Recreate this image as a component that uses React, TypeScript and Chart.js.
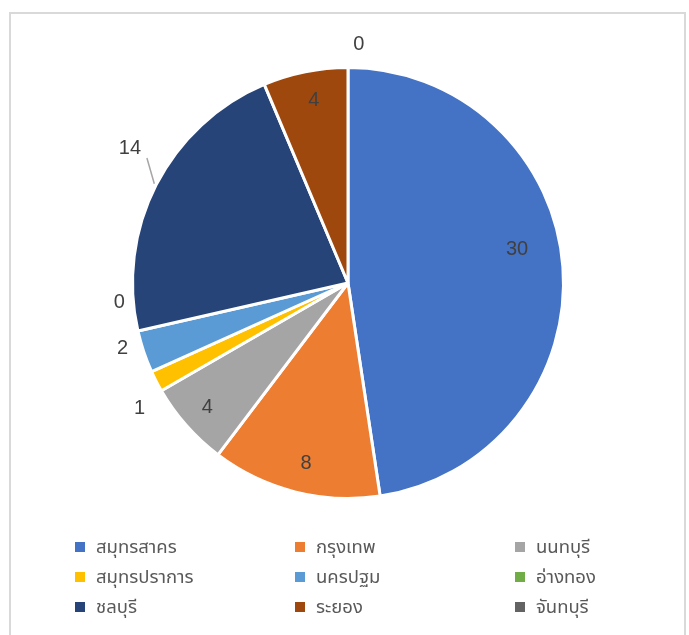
import React, { useEffect, useRef } from "react";
import { Chart, registerables } from "chart.js";

Chart.register(...registerables);

const provinces = [
  "สมุทรสาคร",
  "กรุงเทพ",
  "นนทบุรี",
  "สมุทรปราการ",
  "นครปฐม",
  "อ่างทอง",
  "ชลบุรี",
  "ระยอง",
  "จันทบุรี",
];
const cases = [30, 8, 4, 1, 2, 0, 14, 4, 0];
const colors = [
  "#4472C4",
  "#ED7D31",
  "#A5A5A5",
  "#FFC000",
  "#5B9BD5",
  "#70AD47",
  "#264478",
  "#9E480E",
  "#636363",
];
// label placement style: radial factor and angle nudge (degrees)
const labelRadius = [0.8, 0.86, 0.87, 1.13, 1.09, 1.065, 1.19, 0.86, 1.11];
const labelNudge = [-7, -1.2, 0, -4, 2.3, 8, 4.6, 0.8, 2.6];
const leader = [false, false, false, false, false, false, true, false, false];

const FONT = "Tahoma, 'Leelawadee UI', 'Noto Sans Thai', 'Noto Sans', 'DejaVu Sans', sans-serif";

const labelPlugin = {
  id: "pieLabels",
  afterDatasetsDraw(chart: any) {
    const ctx = chart.ctx;
    const meta = chart.getDatasetMeta(0);
    ctx.save();
    ctx.font = "20px 'Liberation Sans', Arial, sans-serif";
    ctx.fillStyle = "#404040";
    ctx.textAlign = "center";
    ctx.textBaseline = "middle";
    meta.data.forEach((arc: any, i: number) => {
      const { x, y, startAngle, endAngle, outerRadius } = arc.getProps(
        ["x", "y", "startAngle", "endAngle", "outerRadius"],
        true
      );
      const mid = (startAngle + endAngle) / 2;
      const a = mid + (labelNudge[i] * Math.PI) / 180;
      const r = outerRadius * labelRadius[i];
      const lx = x + Math.cos(a) * r;
      const ly = y + Math.sin(a) * r;
      ctx.fillText(String(cases[i]), lx, ly);
      if (leader[i]) {
        ctx.strokeStyle = "#A6A6A6";
        ctx.lineWidth = 1.5;
        ctx.beginPath();
        ctx.moveTo(lx + 17, ly + 10);
        ctx.lineTo(x + Math.cos(mid) * outerRadius * 1.01, y + Math.sin(mid) * outerRadius * 1.01);
        ctx.stroke();
      }
    });
    ctx.restore();
  },
};

export default function App() {
  const ref = useRef<HTMLCanvasElement | null>(null);
  useEffect(() => {
    if (!ref.current) return;
    const chart = new Chart(ref.current, {
      type: "pie",
      data: {
        labels: provinces,
        datasets: [
          {
            data: cases,
            backgroundColor: colors,
            borderColor: "#ffffff",
            borderWidth: 3,
          },
        ],
      },
      options: {
        responsive: false,
        animation: false,
        devicePixelRatio: 1,
        layout: { padding: { left: 131, right: 124, top: 66, bottom: 135 } },
        plugins: {
          legend: { display: false },
          tooltip: { enabled: false },
          title: { display: false },
        },
      },
      plugins: [labelPlugin],
    });
    return () => chart.destroy();
  }, []);

  return (
    <div
      style={{
        position: "fixed",
        left: 0,
        top: 0,
        width: 689,
        height: 635,
        background: "#ffffff",
        overflow: "hidden",
      }}
    >
      <div
        style={{
          position: "absolute",
          left: 9,
          top: 12,
          width: 673,
          height: 700,
          border: "2px solid #d9d9d9",
        }}
      />
      <canvas
        ref={ref}
        width={689}
        height={635}
        style={{ position: "absolute", left: 0, top: 0, width: 689, height: 635 }}
      />
      <div
        style={{
          position: "absolute",
          left: 75,
          top: 532,
          display: "grid",
          gridTemplateColumns: "220px 220px 140px",
          gridAutoRows: "30px",
          fontFamily: FONT,
          fontSize: 18.5,
          color: "#595959",
        }}
      >
        {provinces.map((p, i) => (
          <div key={p} style={{ display: "flex", alignItems: "center" }}>
            <span
              style={{
                display: "inline-block",
                width: 10,
                height: 10,
                background: colors[i],
                marginRight: 11,
              }}
            />
            <span style={{ whiteSpace: "nowrap" }}>{p}</span>
          </div>
        ))}
      </div>
    </div>
  );
}
